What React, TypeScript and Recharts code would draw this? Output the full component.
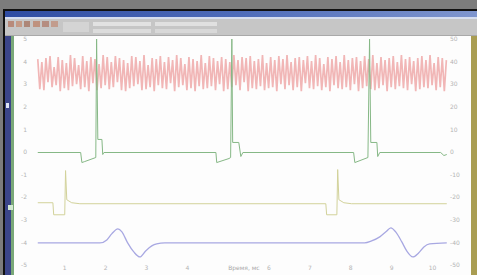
import React from 'react';
import { LineChart, Line, XAxis, YAxis } from 'recharts';

// EMG channel (red), sampled every 5 ms from 34 ms
const emgStart = 34;
const emgStep = 5;
const emgValues = [
  14, -16, 11, -17, 15, -9, 17, -14, 6, -12, 16, -18, 13, -15, 10, -17, 18, -13, 15, -11,
  8, -16, 17, -14, 12, -18, 16, -10, 14, -17, 9, -15, 18, -12, 16, -16, 11, -14, 17, -9,
  15, -17, 13, -18, 10, -15, 17, -13, 16, -11, 12, -17, 18, -16, 8, -14, 15, -18, 14, -12,
  17, -15, 11, -16, 16, -10, 13, -18, 18, -14, 15, -12, 9, -17, 16, -15, 14, -18, 12, -13,
  18, -16, 10, -15, 17, -13, 15, -17, 12, -11, 16, -18, 14, -16, 11, -14, 18, -12, 13, -17,
  16, -9, 15, -18, 17, -15, 12, -16, 14, -13, 18, -17, 10, -15, 16, -14, 13, -18, 17, -11,
  14, -16, 18, -12, 11, -17, 15, -14, 16, -18, 13, -10, 17, -15, 12, -16, 18, -13, 15, -17,
  9, -14, 16, -18, 14, -12, 17, -15, 11, -16, 18, -14, 13, -17, 15, -11, 16, -18, 12, -15,
  17, -13, 14, -16, 18, -17, 10, -15, 16, -12, 13, -18, 15, -14, 17, -16, 11, -13, 18, -15,
  14, -17, 16, -11, 12, -18, 15, -16, 17, -14, 13, -15, 18, -12, 10, -17, 16, -14, 15, -18,
  13,
];

// stimulus channel (green)
const stimTimes = [34, 139, 142, 149, 176, 178, 181, 191, 193, 196, 470, 472, 502, 506, 509, 511, 526, 531, 536, 807, 810, 842, 846, 849, 864, 866, 871, 1020, 1028, 1035];
const stimValues = [0, 0, -10, -9, -5, 113, 13, 13, -2, 0, 0, -10, -6, -5, 113, 10, 10, -4, 0, 0, -10, -5, 113, 10, 10, -4, 0, 0, -3, -2];

// trigger channel (yellow)
const trigTimes = [34, 71, 73, 100, 102, 105, 117, 137, 739, 741, 766, 768, 771, 783, 802, 1035];
const trigValues = [1, 1, -11, -11, 33, 4, 1, 0, 0, -11, -11, 34, 4, 1, 0, 0];

// response channel (blue)
const respTimes = [34, 186, 203, 215, 230, 240, 254, 269, 284, 298, 313, 325, 345, 834, 851, 871, 886, 898, 910, 925, 937, 952, 966, 979, 993, 1035];
const respValues = [0, 0, 3, 9, 14, 11, 0, -9, -14, -8, -3, -1, 0, 0, 2, 6, 11, 15, 11, 1, -8, -14, -10, -4, -1, 0];

const timeTicks = [100, 200, 300, 400, 500, 600, 700, 800, 900, 1000];
const timeLabels = ['1', '2', '3', '4', '', '6', '7', '8', '9', '10'];
const axisTitle = 'Время, мс';
const stimTicks = [-112, -89.5, -67, -44.5, -22, 0.5, 23, 45.5, 68, 90.5, 113];
const emgTicks = [-191, -168.5, -146, -123.5, -101, -78.5, -56, -33.5, -11, 11.5, 34];
// bottom to top
const leftLabels = ['-5', '-4', '-3', '-2', '-1', '0', '1', '2', '3', '4', '5'];
const rightLabels = ['-50', '-40', '-30', '-20', '-10', '0', '10', '20', '30', '40', '50'];

const emgData = emgValues.map((v, i) => ({ t: emgStart + i * emgStep, v }));
const stimData = stimTimes.map((t, i) => ({ t, v: stimValues[i] }));
const trigData = trigTimes.map((t, i) => ({ t, v: trigValues[i] }));
const respData = respTimes.map((t, i) => ({ t, v: respValues[i] }));

const tickStyle = { fontSize: 6, fill: '#b4b4b4', fontFamily: 'DejaVu Sans' };

const TimeTick = (props: any) => {
  const { x, y, payload } = props;
  const i = timeTicks.indexOf(payload.value);
  if (payload.value === 500) {
    return (
      <text x={x} y={y} dy={4.3} textAnchor="start" {...tickStyle} fill="#a8a8a8">
        {axisTitle}
      </text>
    );
  }
  return (
    <text x={x} y={y} dy={4.3} textAnchor="middle" {...tickStyle}>
      {timeLabels[i]}
    </text>
  );
};

const box = (left: number, top: number, width: number, height: number, background: string) => (
  <div style={{ position: 'absolute', left, top, width, height, background }} />
);

export default function App() {
  return (
    <div style={{ position: 'absolute', left: 0, top: 0, width: 477, height: 275, background: '#7c7c7c', overflow: 'hidden' }}>
      {box(3, 9, 474, 266, '#111')}
      <div style={{ position: 'absolute', left: 5, top: 11, width: 472, height: 6, background: 'linear-gradient(to right, #2f4ca2, #4e6cba 50%, #7f96cf)' }} />
      {box(5, 17, 472, 2, '#d6def0')}
      {box(5, 19, 472, 17, '#c6c6c6')}
      {box(5, 35, 472, 1, '#a9a9a9')}
      {/* toolbar buttons */}
      {box(8, 21, 6, 6, '#b88a7a')}
      {box(16, 21, 6, 6, '#c49a86')}
      {box(24, 21, 6, 6, '#ad8677')}
      {box(33, 21, 7, 6, '#bf927f')}
      {box(42, 21, 7, 6, '#b58d80')}
      {box(51, 21, 7, 6, '#c29c8d')}
      {box(63, 22, 26, 10, '#d4d4d4')}
      {box(93, 22, 58, 4, '#e2e2e2')}
      {box(93, 29, 58, 4, '#dcdcdc')}
      {box(155, 22, 62, 4, '#e0e0e0')}
      {box(155, 29, 62, 4, '#d8d8d8')}
      {/* side strips */}
      {box(5, 36, 6, 239, '#3b4589')}
      {box(11, 36, 3, 239, '#79a879')}
      {box(6, 103, 3, 5, '#dfe6f6')}
      {box(8, 205, 5, 5, '#d2ead2')}
      {box(14, 36, 457, 239, '#fdfdfd')}
      {box(471, 36, 6, 239, '#a99d52')}
      <div style={{ position: 'absolute', left: 14, top: 36 }}>
        <LineChart width={457} height={239} margin={{ top: 3, right: 0, bottom: 0, left: 0 }}>
          <XAxis
            dataKey="t"
            type="number"
            domain={[15, 1038]}
            allowDataOverflow
            ticks={timeTicks}
            interval={0}
            height={10}
            axisLine={false}
            tickLine={false}
            tickSize={0}
            tickMargin={1}
            tick={<TimeTick />}
          />
          <YAxis yAxisId="trig" hide width={0} type="number" domain={[-61, 164]} allowDataOverflow />
          <YAxis yAxisId="resp" hide width={0} type="number" domain={[-22, 203]} allowDataOverflow />
          <YAxis
            yAxisId="stim"
            type="number"
            domain={[-112, 113]}
            allowDataOverflow
            ticks={stimTicks}
            interval={0}
            width={16}
            axisLine={false}
            tickLine={false}
            tickSize={0}
            tickMargin={3}
            tick={tickStyle}
            tickFormatter={(v: number) => leftLabels[stimTicks.indexOf(v)] ?? ''}
          />
          <YAxis
            yAxisId="emg"
            orientation="right"
            type="number"
            domain={[-191, 34]}
            allowDataOverflow
            ticks={emgTicks}
            interval={0}
            width={23}
            axisLine={false}
            tickLine={false}
            tickSize={0}
            tickMargin={2}
            tick={tickStyle}
            tickFormatter={(v: number) => rightLabels[emgTicks.indexOf(v)] ?? ''}
          />
          <Line yAxisId="emg" data={emgData} dataKey="v" stroke="#f1b6b6" strokeWidth={1.7} dot={false} isAnimationActive={false} type="linear" />
          <Line yAxisId="stim" data={stimData} dataKey="v" stroke="#86b886" strokeWidth={1} dot={false} isAnimationActive={false} type="linear" />
          <Line yAxisId="trig" data={trigData} dataKey="v" stroke="#d2d29a" strokeWidth={1} dot={false} isAnimationActive={false} type="linear" />
          <Line yAxisId="resp" data={respData} dataKey="v" stroke="#a8a8e2" strokeWidth={1.3} dot={false} isAnimationActive={false} type="monotone" />
        </LineChart>
      </div>
    </div>
  );
}
